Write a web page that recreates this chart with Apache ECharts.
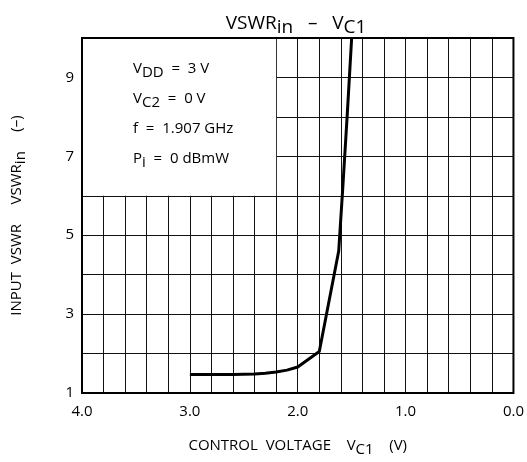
<!DOCTYPE html>
<html>
<head>
<meta charset="utf-8">
<script src="https://cdn.jsdelivr.net/npm/echarts@6/dist/echarts.min.js"></script>
<style>
  html, body { margin: 0; padding: 0; background: #fff; }
  #chart { width: 527px; height: 462px; }
</style>
</head>
<body>
<div id="chart"></div>
<script>
// Control voltage V_C1 (V) and the measured input VSWR
const vc1 = [3.0, 2.6, 2.4, 2.3, 2.2, 2.1, 2.0, 1.8, 1.62, 1.58, 1.54, 1.5];
const vswrIn = [1.47, 1.47, 1.48, 1.50, 1.53, 1.58, 1.66, 2.05, 4.6, 6.3, 8.1, 10];

// Axis ranges and which ticks carry a label
const xRange = [0, 4];
const xStep = 0.2;
const yRange = [1, 10];
const yStep = 1;
const yLabelled = [1, 3, 5, 7, 9];

// Measurement conditions shown in the box
const conditions = [
  ['V', 'DD', '  =  3 V'],
  ['V', 'C2', '  =  0 V'],
  ['f  =  1.907 GHz', '', ''],
  ['P', 'i', '  =  0 dBmW']
];
// Region of the plot cleared for the conditions box: [x0, y0, x1, y1]
const boxArea = [4.0, 6, 2.2, 10];

const FONT = 'Open Sans';

const chart = echarts.init(document.getElementById('chart'));

const condText = conditions
  .map(c => c[1] ? `{m|${c[0]}}{s|${c[1]}}{m|${c[2]}}` : `{m|${c[0]}}`)
  .join('\n');

const txt = (size, extra) => Object.assign({ fontFamily: FONT, fontSize: size, fontWeight: 'normal', color: '#000' }, extra || {});

chart.setOption({
  backgroundColor: '#fff',
  animation: false,
  title: {
    text: '{m|VSWR}{s|in}{m|   –   V}{s|C1}',
    left: 291,
    textAlign: 'center',
    top: 6,
    textStyle: {
      fontWeight: 'normal',
      rich: {
        m: txt(19),
        s: txt(19, { padding: [7, 0, 0, 0] })
      }
    }
  },
  grid: {
    left: 82, right: 12, top: 38, bottom: 63,
    show: true, borderColor: '#000', borderWidth: 2,
    z: 5
  },
  xAxis: {
    type: 'value',
    inverse: true,
    min: xRange[0], max: xRange[1], interval: xStep,
    axisLine: { show: false },
    axisTick: { show: false },
    splitLine: { show: true, lineStyle: { color: '#111', width: 1 } },
    axisLabel: {
      fontFamily: FONT, fontSize: 15, color: '#000', margin: 11,
      showMinLabel: true, showMaxLabel: true,
      formatter: v => Math.abs(v - Math.round(v)) < 1e-6 ? v.toFixed(1) : ''
    },
    name: '{m|CONTROL  VOLTAGE    V}{s|C1}{m|    (V)}',
    nameLocation: 'middle',
    nameGap: 42,
    nameTextStyle: {
      rich: {
        m: txt(15),
        s: txt(15, { padding: [7, 0, 0, 0] })
      }
    }
  },
  yAxis: {
    type: 'value',
    min: yRange[0], max: yRange[1], interval: yStep,
    axisLine: { show: false },
    axisTick: { show: false },
    splitLine: { show: true, lineStyle: { color: '#111', width: 1 } },
    axisLabel: {
      fontFamily: FONT, fontSize: 15, color: '#000', margin: 8,
      showMinLabel: true, showMaxLabel: false,
      formatter: v => yLabelled.includes(Math.round(v)) && Math.abs(v - Math.round(v)) < 1e-6 ? String(Math.round(v)) : ''
    },
    name: '{m|INPUT  VSWR     VSWR}{s|in}{m|     (–)}',
    nameLocation: 'middle',
    nameGap: 54,
    nameRotate: 90,
    nameTextStyle: {
      rich: {
        m: txt(15),
        s: txt(15, { padding: [7, 0, 0, 0] })
      }
    }
  },
  series: [{
    type: 'line',
    data: vc1.map((x, i) => [x, vswrIn[i]]),
    showSymbol: false,
    smooth: false,
    lineStyle: { color: '#000', width: 3, join: 'round' },
    markArea: {
      silent: true,
      itemStyle: { color: '#fff', opacity: 1 },
      data: [[{ coord: [boxArea[0], boxArea[1]] }, { coord: [boxArea[2], boxArea[3]] }]]
    }
  }],
  graphic: [{
    type: 'text',
    left: 133,
    top: 57,
    z: 10,
    style: {
      text: condText,
      rich: {
        m: txt(15, { lineHeight: 30 }),
        s: txt(15, { lineHeight: 30, padding: [8, 0, 0, 0] })
      }
    }
  }]
});
</script>
</body>
</html>
